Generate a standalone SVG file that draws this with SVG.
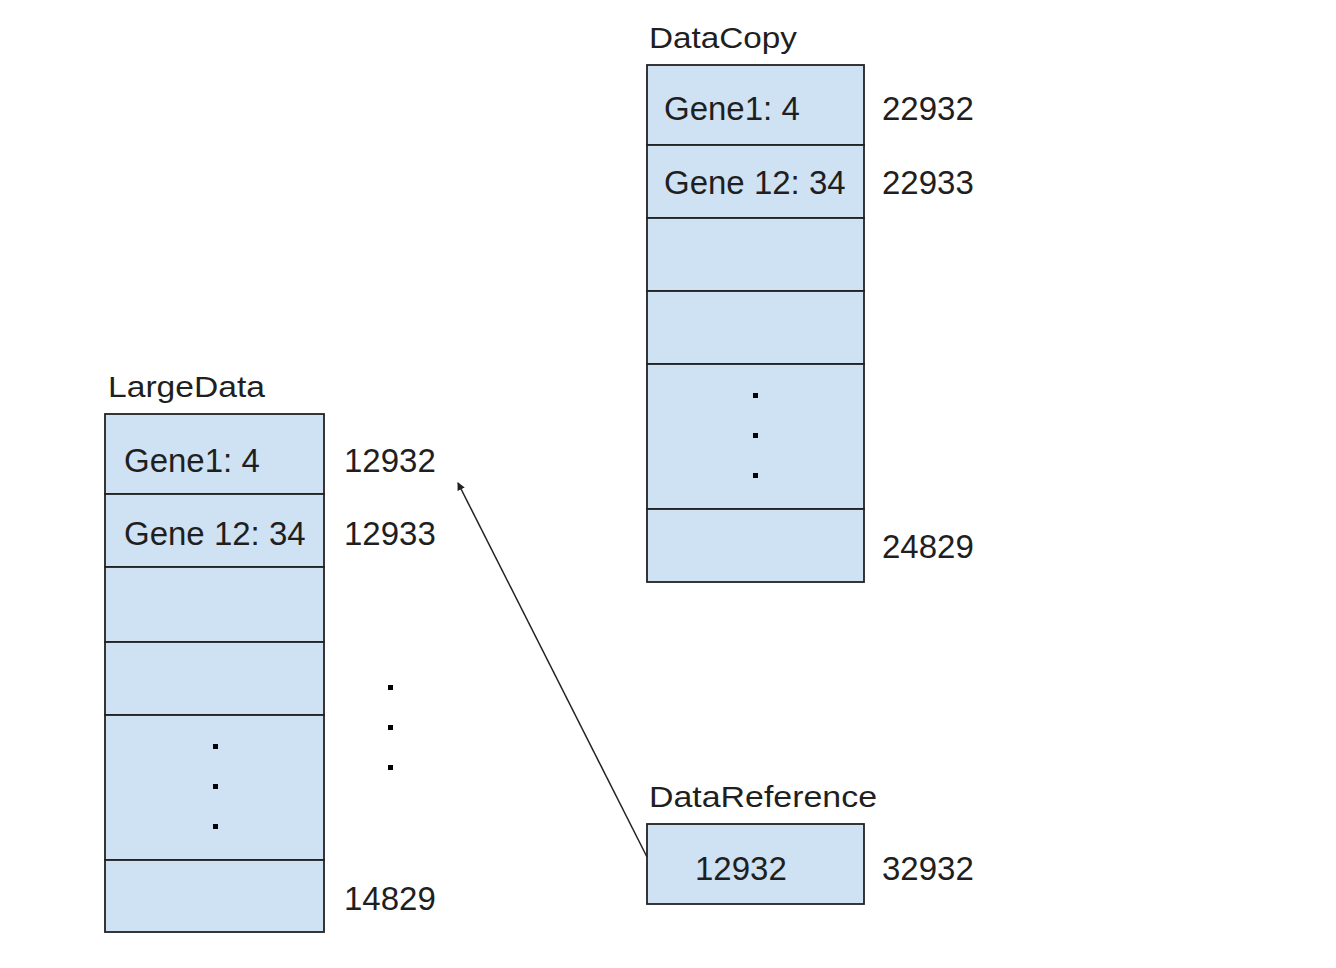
<svg xmlns="http://www.w3.org/2000/svg" width="1336" height="968" viewBox="0 0 1336 968">
<style>
.cell{fill:#cfe2f3;stroke:#222;stroke-width:1.8}
.t{font-family:"Liberation Sans",Arial,sans-serif;font-size:33px;fill:#1f1f1f}
.title{font-family:"Liberation Sans",Arial,sans-serif;font-size:30px;fill:#1f1f1f}
.dot{fill:#000}
.conn{stroke:#222;stroke-width:1.5;fill:none}
</style>
<defs>
<marker id="ah" markerWidth="8" markerHeight="8" refX="7" refY="4" orient="auto" markerUnits="userSpaceOnUse">
<path d="M0,0 L8,4 L0,8 Z" fill="#222"/>
</marker>
</defs>
<rect width="1336" height="968" fill="#fff"/>
<g id="LargeData">
<text class="title" x="108" y="397" textLength="157" lengthAdjust="spacingAndGlyphs">LargeData</text>
<rect class="cell" x="105" y="414" width="219" height="80"/>
<rect class="cell" x="105" y="494" width="219" height="73"/>
<rect class="cell" x="105" y="567" width="219" height="75"/>
<rect class="cell" x="105" y="642" width="219" height="73"/>
<rect class="cell" x="105" y="715" width="219" height="145"/>
<rect class="cell" x="105" y="860" width="219" height="72"/>
<text class="t" x="124" y="472">Gene1: 4</text>
<text class="t" x="124" y="545">Gene 12: 34</text>
<rect class="dot" x="213" y="744" width="5" height="5"/>
<rect class="dot" x="213" y="784" width="5" height="5"/>
<rect class="dot" x="213" y="824" width="5" height="5"/>
<text class="t" x="344" y="472">12932</text>
<text class="t" x="344" y="545">12933</text>
<rect class="dot" x="388" y="685" width="5" height="5"/>
<rect class="dot" x="388" y="725" width="5" height="5"/>
<rect class="dot" x="388" y="765" width="5" height="5"/>
<text class="t" x="344" y="910">14829</text>
</g>
<g id="DataCopy">
<text class="title" x="649" y="48" textLength="148" lengthAdjust="spacingAndGlyphs">DataCopy</text>
<rect class="cell" x="647" y="65" width="217" height="80"/>
<rect class="cell" x="647" y="145" width="217" height="73"/>
<rect class="cell" x="647" y="218" width="217" height="73"/>
<rect class="cell" x="647" y="291" width="217" height="73"/>
<rect class="cell" x="647" y="364" width="217" height="145"/>
<rect class="cell" x="647" y="509" width="217" height="73"/>
<text class="t" x="664" y="120">Gene1: 4</text>
<text class="t" x="664" y="194">Gene 12: 34</text>
<rect class="dot" x="753" y="393" width="5" height="5"/>
<rect class="dot" x="753" y="433" width="5" height="5"/>
<rect class="dot" x="753" y="473" width="5" height="5"/>
<text class="t" x="882" y="120">22932</text>
<text class="t" x="882" y="194">22933</text>
<text class="t" x="882" y="558">24829</text>
</g>
<g id="DataReference">
<text class="title" x="649" y="807" textLength="228" lengthAdjust="spacingAndGlyphs">DataReference</text>
<rect class="cell" x="647" y="824" width="217" height="80"/>
<text class="t" x="695" y="880">12932</text>
<text class="t" x="882" y="880">32932</text>
</g>
<g id="connectors">
<line class="conn" x1="647" y1="857" x2="458" y2="483" marker-end="url(#ah)"/>
</g>
</svg>
